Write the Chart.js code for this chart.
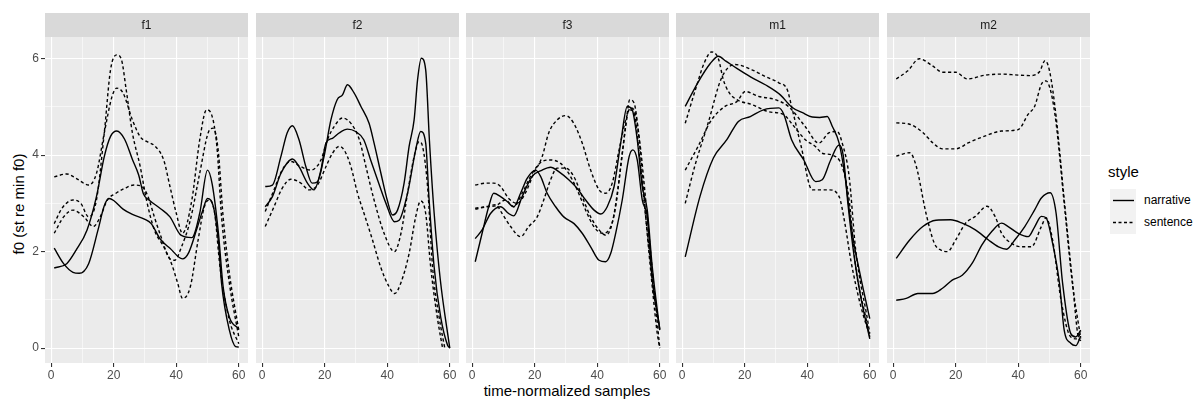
<!DOCTYPE html>
<html>
<head>
<meta charset="utf-8">
<script src="https://cdn.jsdelivr.net/npm/chart.js@4.4.1/dist/chart.umd.min.js"></script>
<style>
  body { margin: 0; background: #fff; font-family: "Liberation Sans", Arial, sans-serif; }
  #wrap { position: relative; width: 1195px; height: 399px; overflow: hidden; }
  #wrap canvas { position: absolute; }
  .ytitle { position: absolute; left: 18px; top: 204px; transform: translate(-50%, -50%) rotate(-90deg); font-size: 15px; white-space: nowrap; color: #000; }
  .xtitle { position: absolute; left: 567px; top: 390px; transform: translate(-50%, -50%); font-size: 15px; white-space: nowrap; color: #000; }
  .lg-title { position: absolute; left: 1108px; top: 164px; font-size: 15px; line-height: 15px; color: #000; }
  .lg-box { position: absolute; left: 1110px; top: 189px; width: 26px; height: 45px; background: #f2f2f2; }
  .lg-item { position: absolute; left: 1144px; font-size: 12px; line-height: 12px; color: #000; }
  .lg-line { position: absolute; left: 1113px; }
</style>
</head>
<body>
<div id="wrap">
  <div class="ytitle">f0 (st re min f0)</div>
  <div class="xtitle">time-normalized samples</div>
  <div class="lg-title">style</div>
  <div class="lg-box"></div>
  <svg class="lg-line" style="top:199px" width="21" height="3"><line x1="0" y1="1.5" x2="21" y2="1.5" stroke="#000" stroke-width="1.4"/></svg>
  <svg class="lg-line" style="top:221px" width="21" height="3"><line x1="0" y1="1.5" x2="21" y2="1.5" stroke="#000" stroke-width="1.4" stroke-dasharray="3,2.5"/></svg>
  <div class="lg-item" style="top:194px">narrative</div>
  <div class="lg-item" style="top:216px">sentence</div>
</div>
<script>
// facets and axis setup
const speakers = ['f1', 'f2', 'f3', 'm1', 'm2'];
const xTicks = [0, 10, 20, 30, 40, 50, 60];
const xLabels = [0, 20, 40, 60];
const yTicks = [0, 1, 2, 3, 4, 5, 6];
const yLabels = [0, 2, 4, 6];

// [sample, f0] pairs
const f1Narrative = [
  [[1,2.07],[4,1.75],[7,1.57],[9,1.55],[12,1.75],[15,2.45],[17,2.95],[18.5,3.1],[20,3.06],[23,2.88],[26,2.77],[30,2.67],[32,2.58],[35,2.25],[38,2.07],[42,1.85],[44,1.98],[46.5,2.45],[48.5,2.86],[50,3.1],[52,2.9],[53.5,2.2],[54.5,1.34],[57,0.37],[59,0.03],[60,0.02]],
  [[1,1.66],[5,1.75],[8,2.03],[11.5,2.45],[14.5,3.14],[17,3.97],[19,4.39],[21,4.5],[23.5,4.33],[26,3.91],[28,3.59],[29.5,3.2],[31.5,3.06],[35,2.89],[38,2.72],[41.5,2.34],[45,2.29],[47.5,2.79],[50,3.69],[51.5,3.4],[53.5,2.38],[55,1.27],[57,0.64],[60,0.4]],
];
const f1Sentence = [
  [[1,3.55],[5,3.61],[8,3.52],[12,3.38],[14.5,3.62],[17,4.46],[19.5,5.22],[21,5.39],[23,5.29],[26,4.73],[28.5,4.38],[31,4.27],[33,4.2],[36,3.9],[38,3.35],[40,2.8],[42,2.38],[45,3.07],[47.5,4.31],[49.7,4.94],[51.3,4.84],[53,4.18],[54.5,2.72],[57,1.34],[60,0.23]],
  [[1,2.58],[3.5,2.9],[7,3.07],[9.5,3.0],[12,2.72],[14.5,3.07],[17,4.46],[19,5.77],[21,6.08],[22.5,5.98],[24,5.36],[26,4.46],[28.5,3.76],[30.5,3.07],[33,2.45],[36,2.1],[38.5,1.75],[40.5,1.34],[42,1.03],[44.5,1.27],[47,2.24],[49,2.93],[50.7,3.07],[52.3,2.79],[54,1.68],[57,0.58],[60,0.09]],
  [[1,2.38],[4,2.72],[7,2.86],[10.5,2.72],[13.5,2.52],[15.7,2.72],[18,3.07],[20.5,3.2],[23.5,3.31],[26.5,3.38],[29,3.35],[31,3.14],[33,2.72],[35.5,2.24],[37.5,1.89],[39.5,1.82],[41.7,2.1],[44.5,2.65],[47.5,3.62],[50.2,4.46],[51.8,4.56],[53.4,4.11],[55,2.72],[57,1.55],[60,0.37]],
];
const f2Narrative = [
  [[1,3.35],[3.3,3.38],[6,3.97],[8,4.46],[9.7,4.61],[11.8,4.32],[14,3.76],[16,3.42],[17.7,3.45],[19.8,3.97],[22,4.73],[24,5.15],[25.7,5.25],[27.3,5.46],[29.4,5.29],[31.6,5.01],[34.2,4.66],[35.8,4.25],[38,3.62],[40,3.07],[41.7,2.76],[43.3,2.86],[45.4,3.42],[47,4.18],[48.6,4.73],[49.7,5.56],[50.9,6.01],[52.3,5.77],[53.5,4.3],[55,2.8],[57,1.4],[60,0]],
  [[1,2.93],[3.3,3.14],[6,3.62],[9.7,3.92],[11.8,3.76],[14.5,3.42],[16.6,3.28],[18.8,3.69],[20.4,4.25],[22.5,4.35],[24.6,4.46],[27.3,4.54],[29.9,4.49],[32.5,4.32],[34.7,3.9],[36.9,3.49],[39.6,3.0],[42.3,2.62],[43.8,2.65],[46.5,3.21],[49.1,4.11],[50.7,4.49],[52.3,4.25],[53.4,3.07],[55,1.68],[57.1,0.64],[59.3,0.06],[60,0]],
];
const f2Sentence = [
  [[1,2.83],[3.8,3.28],[6.4,3.69],[9.2,3.87],[12.4,3.76],[15.6,3.69],[18.8,3.9],[20.9,4.32],[23.1,4.6],[25.7,4.77],[28.4,4.66],[31.1,4.32],[33.2,3.76],[35.8,3.07],[39,2.38],[42.3,2.0],[44.4,2.38],[46.5,3.21],[48.6,3.97],[50.2,4.28],[51.3,4.18],[52.9,3.35],[54.5,1.68],[56.6,0.64],[58.4,0]],
  [[1,2.52],[3.8,2.93],[6.4,3.31],[9.2,3.5],[12.4,3.42],[15,3.28],[17.7,3.38],[20.4,3.76],[22.5,4.04],[24.6,4.18],[26.2,4.11],[28.4,3.76],[30.5,3.21],[32.6,2.79],[35.3,2.24],[37.9,1.68],[40.6,1.27],[42.4,1.13],[44.3,1.34],[47,1.96],[49.1,2.72],[50.7,3.05],[52.3,2.79],[53.9,1.68],[56,0.64],[57.7,0]],
];
const f3Narrative = [
  [[1,1.79],[3.2,2.38],[5.3,2.93],[6.9,3.21],[9.1,3.14],[11.2,3.04],[13.3,2.93],[15.5,3.21],[17.6,3.52],[20.3,3.69],[21.9,3.56],[24,3.21],[26.7,2.93],[29.3,2.72],[32.6,2.58],[35.2,2.38],[37.9,2.1],[40.6,1.82],[42.7,1.79],[44.3,1.96],[45.9,2.38],[48,3.07],[50.2,3.97],[51.4,4.11],[52.8,3.9],[54.4,3.07],[56,2.72],[57.6,1.41],[60,0.4]],
  [[1,2.27],[3.2,2.45],[5.9,2.79],[9.1,2.93],[11.7,2.79],[13.3,2.74],[16,3.14],[19.2,3.56],[22.4,3.69],[25.1,3.75],[27.7,3.66],[30.9,3.49],[33.6,3.31],[36.3,3.07],[39,2.86],[41.1,2.78],[43.2,2.93],[45.4,3.35],[47.5,4.25],[49.6,5.01],[51.2,4.94],[52.8,4.32],[54.4,3.35],[56,2.86],[57.6,1.68],[60,0.37]],
];
const f3Sentence = [
  [[1,3.38],[4.3,3.42],[6.9,3.42],[9.1,3.35],[11.7,3.1],[14.4,3.0],[17,3.21],[19.7,3.62],[22.4,3.97],[24.5,4.46],[27.2,4.73],[29.9,4.82],[32.5,4.66],[35.2,4.25],[37.9,3.69],[40.6,3.28],[42.7,3.21],[44.8,3.42],[47,4.11],[49.1,4.73],[50.7,4.98],[52.3,4.84],[53.9,4.11],[55.5,3.07],[57.6,1.62],[60,0]],
  [[1,2.9],[4.3,2.93],[7.5,2.97],[9.6,2.79],[12.3,2.52],[15.5,2.31],[18.1,2.52],[20.8,2.72],[22.9,3.07],[25.1,3.49],[27.2,3.73],[29.9,3.73],[32.5,3.56],[35.2,3.14],[37.9,2.72],[40.6,2.45],[42.7,2.34],[44.8,2.59],[47,3.49],[49.1,4.6],[50.4,5.15],[51.8,5.08],[53.4,4.32],[55.5,2.72],[57.6,1.27],[59.2,0.3],[60,0]],
  [[1,2.88],[4.8,2.93],[7.5,2.95],[10.7,3.07],[13.3,2.93],[16,3.21],[19.2,3.62],[22.4,3.87],[25.1,3.9],[28.3,3.83],[30.9,3.62],[33.6,3.28],[36.3,2.86],[38.9,2.52],[41.6,2.38],[43.8,2.45],[45.9,2.93],[48,4.04],[50.2,4.94],[51.8,4.87],[53.4,4.04],[55.5,2.72],[58.2,1.13],[60,0.37]],
];
const m1Narrative = [
  [[1,5.01],[5,5.5],[9,5.9],[11.6,6.05],[14,5.95],[17.5,5.8],[22,5.62],[26.6,5.46],[31.4,5.25],[35,5.0],[38.5,4.88],[41.6,4.79],[44,4.78],[46.4,4.8],[48,4.6],[50.2,4.25],[52,3.6],[54.4,2.38],[57,1.5],[60,0.61]],
  [[1,1.89],[5.7,3.14],[10,3.94],[14.3,4.32],[18,4.7],[21.8,4.8],[26,4.94],[30.9,4.98],[32.5,4.85],[35,4.32],[38.9,3.9],[42.7,3.45],[44.8,3.49],[47.5,3.9],[50.2,4.21],[51.5,4.0],[53,3.0],[55,1.9],[57,1.1],[60,0.19]],
];
const m1Sentence = [
  [[1,4.66],[4.6,5.43],[7,5.9],[9.4,6.14],[11.6,6.0],[13.2,5.56],[15,5.3],[17.5,5.15],[22.3,5.05],[27.7,4.9],[32.5,4.84],[35,4.66],[39.4,4.32],[42.6,4.18],[44.8,4.04],[48,4.0],[51.2,3.76],[53.4,3.07],[55.5,1.68],[58.7,0.64],[60,0.23]],
  [[1,3.69],[5.1,4.18],[9.4,4.73],[13.7,5.01],[17.5,5.11],[20.2,5.32],[24.4,5.22],[29.8,5.15],[34,5.01],[39.4,4.59],[43.7,4.25],[46.9,4.46],[49.6,4.49],[51.2,4.25],[53.4,3.56],[55.5,2.03],[59.3,0.58],[60,0.3]],
  [[1,3.0],[4,3.76],[8.3,4.66],[12.6,5.6],[16.9,5.88],[22.3,5.77],[26.6,5.63],[30.9,5.5],[33.6,5.36],[35,5.01],[38,4.2],[41.6,3.28],[44.8,3.28],[47,3.28],[50.2,3.14],[52,2.6],[54,1.8],[57,0.9],[60,0.25]],
];
const m2Narrative = [
  [[1,1.86],[5.3,2.24],[9.5,2.52],[13.7,2.65],[18.4,2.66],[22.1,2.59],[26.3,2.45],[30.5,2.24],[33.7,2.1],[36.3,2.05],[38.9,2.24],[42.1,2.52],[45.3,2.87],[47.4,3.11],[50.2,3.22],[52.1,2.8],[54.2,1.34],[56.8,0.3],[58.4,0.23],[60,0.37]],
  [[1,0.99],[4.2,1.03],[7.9,1.13],[12.6,1.13],[15.8,1.24],[18.9,1.41],[22.1,1.51],[25.3,1.76],[28.4,2.14],[31.6,2.42],[34.7,2.59],[36.8,2.52],[40,2.38],[43.2,2.31],[45.3,2.52],[47.4,2.73],[48.9,2.7],[51,2.17],[53.2,1.34],[54.7,0.37],[56.8,0.1],[58.4,0.05],[60,0.25]],
];
const m2Sentence = [
  [[1,5.58],[4.7,5.75],[8.4,6.0],[12.6,5.85],[15.8,5.72],[20,5.72],[23.7,5.58],[29.5,5.66],[34.7,5.68],[40,5.66],[43.7,5.65],[46.8,5.73],[48.6,5.96],[50,5.75],[52.1,4.81],[54.7,3.08],[57.4,1.34],[59.2,0.23],[60,0.15]],
  [[1,4.67],[5.3,4.64],[9.5,4.47],[12.6,4.26],[15.8,4.13],[20,4.13],[24.2,4.26],[29.5,4.4],[34.7,4.5],[40,4.53],[43.2,4.85],[45.3,5.02],[47.4,5.47],[48.9,5.54],[50.5,5.3],[52.1,4.67],[54.7,3.0],[57.4,1.3],[60,0.2]],
  [[1,3.98],[5.3,4.05],[7.4,3.77],[10.5,2.8],[13.2,2.17],[15.3,2.03],[17.4,2.0],[20,2.24],[23.2,2.59],[26.3,2.73],[30,2.94],[32.6,2.73],[34.7,2.38],[37.9,2.17],[41,2.1],[44.2,2.1],[47.4,2.52],[48.9,2.7],[51,2.24],[53.7,0.99],[56.8,0.23],[58.9,0.19],[60,0.35]],
];

const narrativeBySpeaker = [f1Narrative, f2Narrative, f3Narrative, m1Narrative, m2Narrative];
const sentenceBySpeaker = [f1Sentence, f2Sentence, f3Sentence, m1Sentence, m2Sentence];

// ggplot-like expanded ranges
const xMin = -1.95, xMax = 62.95;
const yMin = -0.31, yMax = 6.45;

const panelLeft = [45, 256, 466, 676, 887];
const panelW = 203;
const stripH = 24;
const yAxisW = 45;

const facetStrip = {
  id: 'facetStrip',
  beforeDraw(chart, args, opts) {
    const { ctx, chartArea: a } = chart;
    ctx.save();
    ctx.fillStyle = '#ebebeb';
    ctx.fillRect(a.left, a.top, a.right - a.left, a.bottom - a.top);
    ctx.fillStyle = '#d9d9d9';
    ctx.fillRect(a.left, a.top - stripH, a.right - a.left, stripH);
    ctx.fillStyle = '#1a1a1a';
    ctx.font = '12px "Liberation Sans", Arial, sans-serif';
    ctx.textAlign = 'center';
    ctx.textBaseline = 'middle';
    ctx.fillText(opts.label, (a.left + a.right) / 2, a.top - stripH / 2 + 0.5);
    ctx.restore();
  },
};

function gridWidth(isMajor) {
  return isMajor ? 1.1 : 0.55;
}

function buildPanel(i) {
  const first = i === 0;
  const canvas = document.createElement('canvas');
  const w = panelW + (first ? yAxisW : 0);
  const h = 370;
  canvas.width = w;
  canvas.height = h;
  canvas.style.width = w + 'px';
  canvas.style.height = h + 'px';
  canvas.style.left = (panelLeft[i] - (first ? yAxisW : 0)) + 'px';
  canvas.style.top = '13px';
  document.getElementById('wrap').appendChild(canvas);

  const datasets = [];
  narrativeBySpeaker[i].forEach((s) => datasets.push({ data: s, borderDash: [] }));
  sentenceBySpeaker[i].forEach((s) => datasets.push({ data: s, borderDash: [3.2, 2.6] }));
  datasets.forEach((d) => {
    d.borderColor = '#000000';
    d.borderWidth = 1.4;
    d.pointRadius = 0;
    d.fill = false;
    d.cubicInterpolationMode = 'monotone';
  });

  new Chart(canvas, {
    type: 'line',
    data: { datasets },
    options: {
      responsive: false,
      animation: false,
      devicePixelRatio: 1,
      layout: { padding: { top: stripH, left: 0, right: 0, bottom: 0 } },
      plugins: {
        legend: { display: false },
        tooltip: { enabled: false },
        facetStrip: { label: speakers[i] },
      },
      scales: {
        x: {
          type: 'linear',
          min: xMin,
          max: xMax,
          afterBuildTicks: (s) => { s.ticks = xTicks.map((v) => ({ value: v })); },
          afterFit: (s) => { s.height = 20; },
          border: { display: false },
          grid: {
            color: '#ffffff',
            lineWidth: (c) => gridWidth(xLabels.includes(c.tick && c.tick.value)),
            tickColor: (c) => (xLabels.includes(c.tick && c.tick.value) ? '#333333' : 'rgba(0,0,0,0)'),
            tickWidth: 1.1,
            tickLength: 4,
          },
          ticks: {
            color: '#4d4d4d',
            font: { size: 12, family: '"Liberation Sans", Arial, sans-serif' },
            padding: 1,
            maxRotation: 0,
            autoSkip: false,
            callback: (v) => (xLabels.includes(v) ? String(v) : ''),
          },
        },
        y: {
          type: 'linear',
          min: yMin,
          max: yMax,
          afterBuildTicks: (s) => { s.ticks = yTicks.map((v) => ({ value: v })); },
          afterFit: (s) => { s.width = first ? yAxisW : 0; },
          border: { display: false },
          grid: {
            color: '#ffffff',
            lineWidth: (c) => gridWidth(yLabels.includes(c.tick && c.tick.value)),
            tickColor: (c) => (yLabels.includes(c.tick && c.tick.value) ? '#333333' : 'rgba(0,0,0,0)'),
            tickWidth: 1.1,
            tickLength: 4,
            drawTicks: first,
          },
          ticks: {
            display: first,
            color: '#4d4d4d',
            font: { size: 12, family: '"Liberation Sans", Arial, sans-serif' },
            padding: 2,
            callback: (v) => (yLabels.includes(v) ? String(v) : ''),
          },
        },
      },
    },
    plugins: [facetStrip],
  });
}

speakers.forEach((_, i) => buildPanel(i));
</script>
</body>
</html>
